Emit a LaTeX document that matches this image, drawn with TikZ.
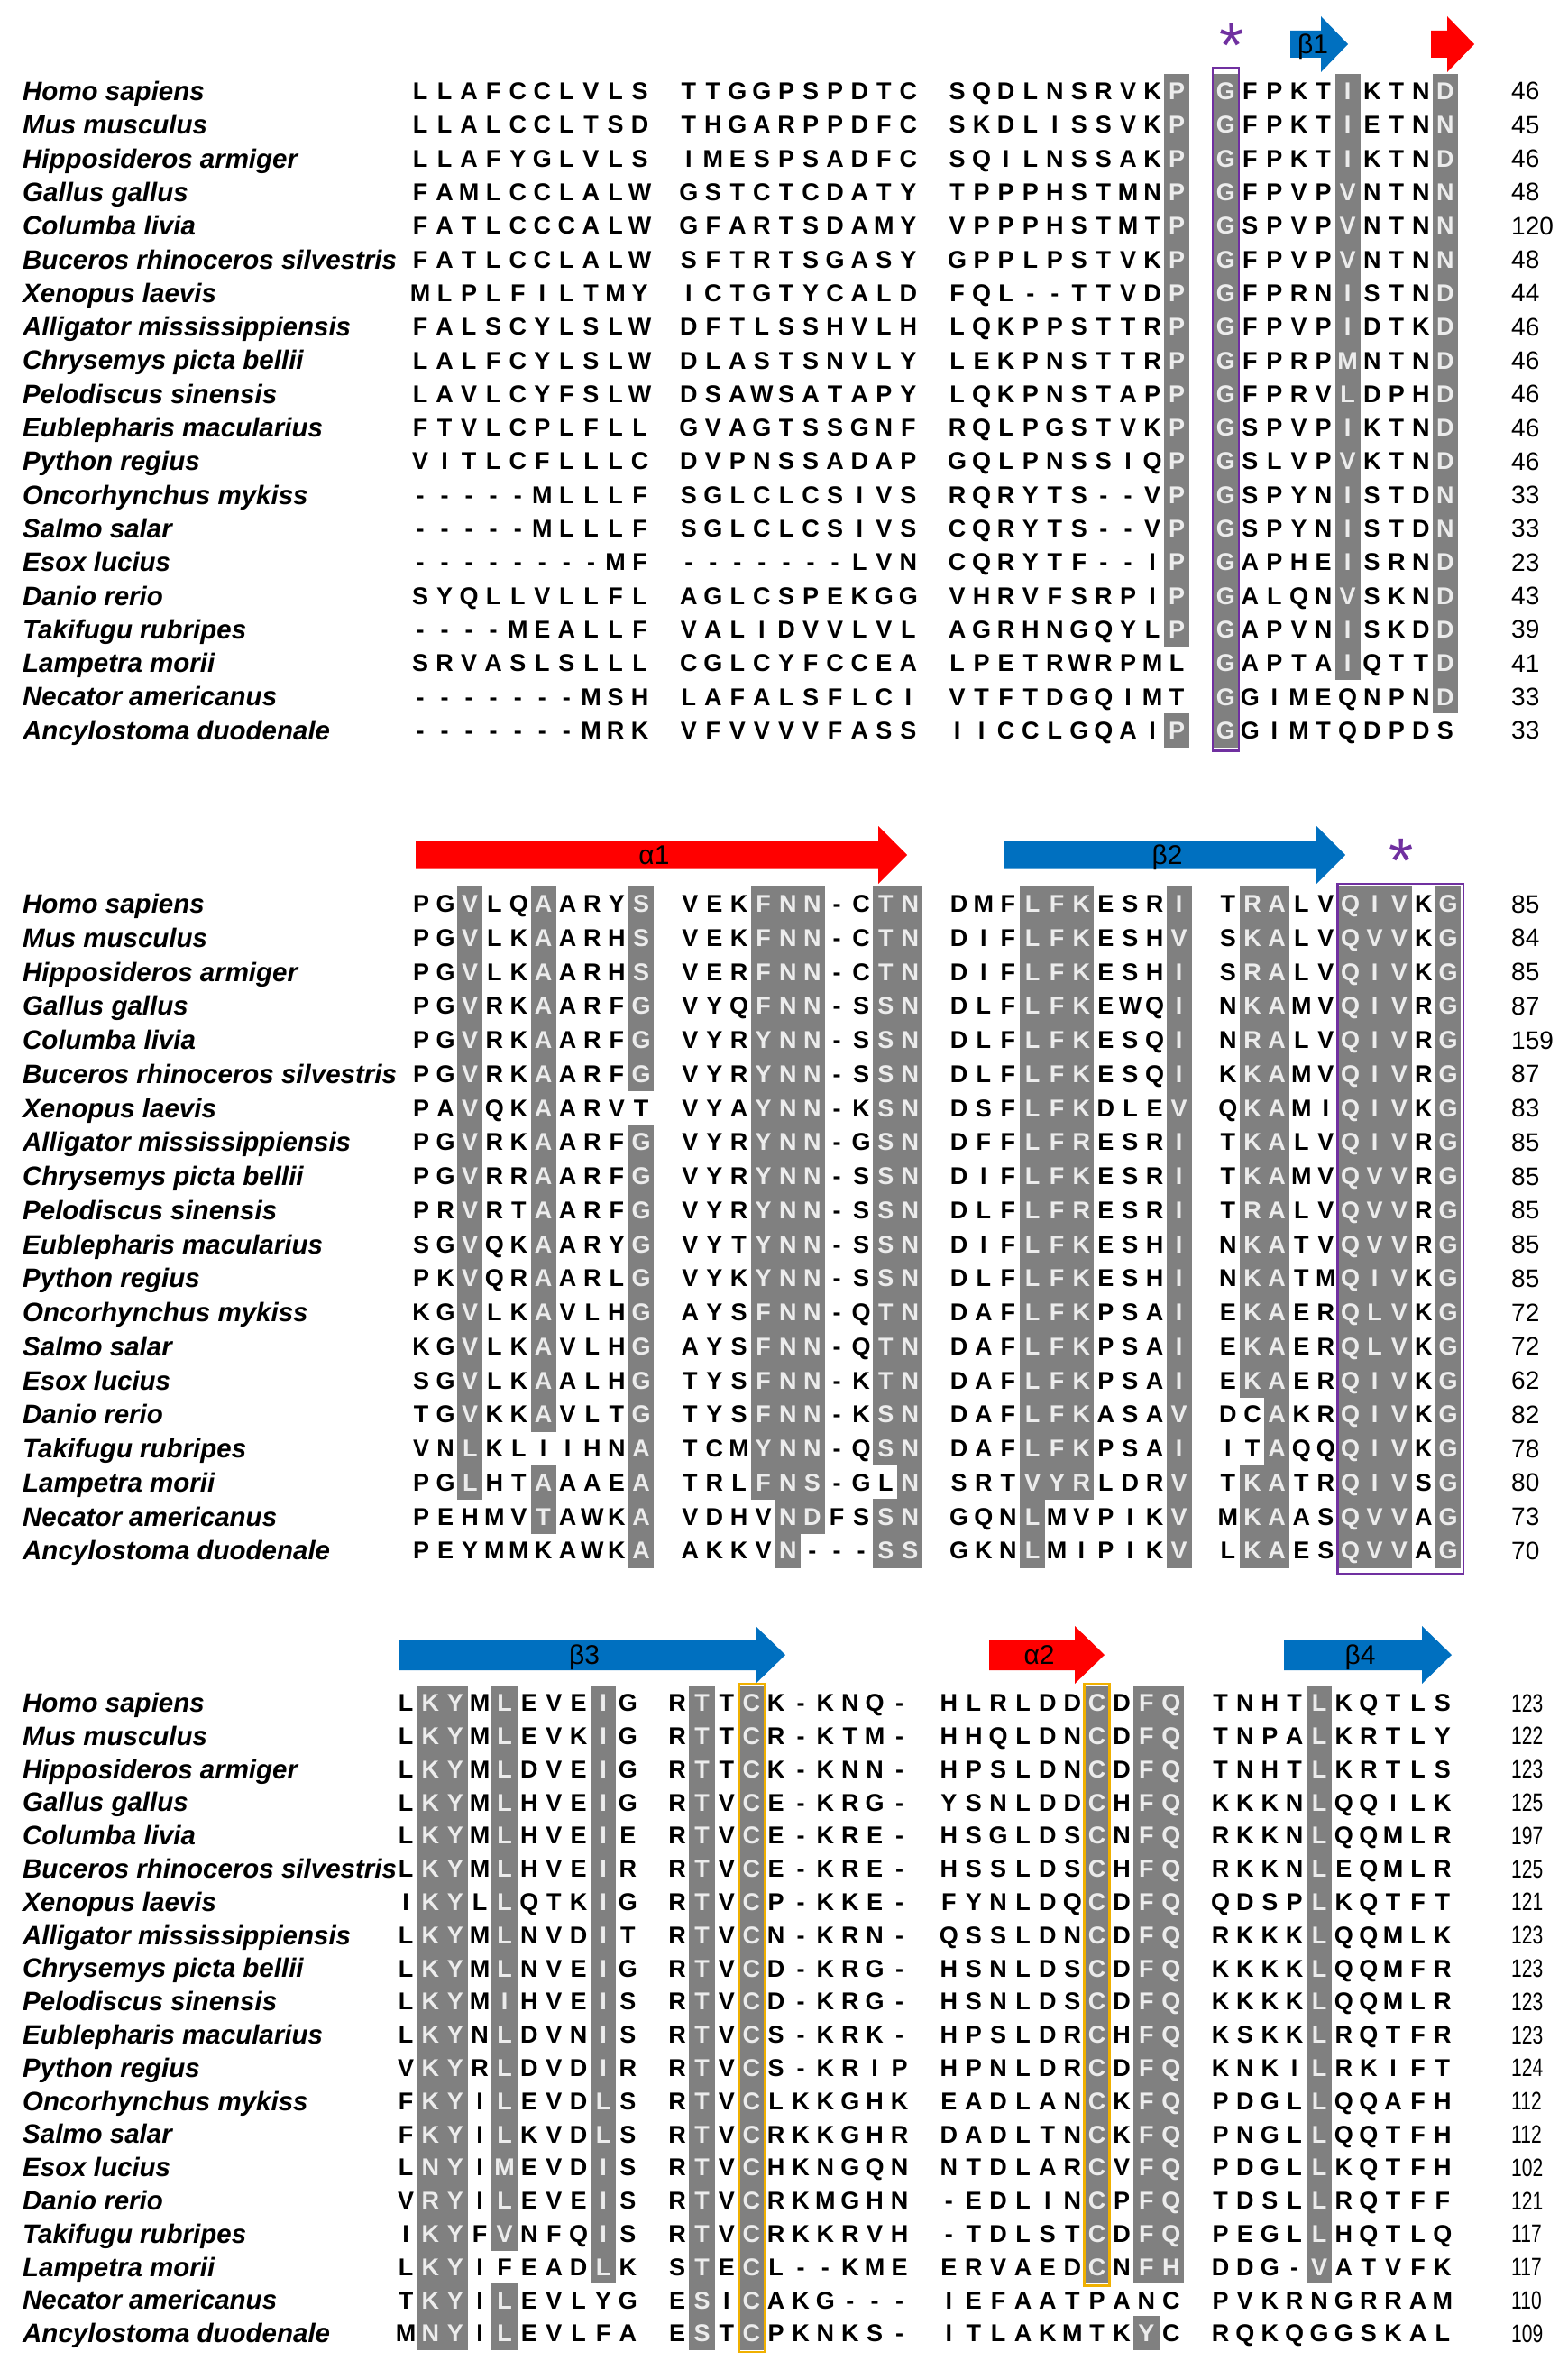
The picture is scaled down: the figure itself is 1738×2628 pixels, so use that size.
\documentclass[tikz,border=0pt]{standalone}
\usepackage{fontspec}
\setmainfont{Liberation Sans}
\usepackage{tikz}
\usetikzlibrary{calc}
\definecolor{hlgray}{RGB}{128,128,128}
\definecolor{hltext}{RGB}{236,236,236}
\definecolor{sheetblue}{RGB}{0,112,192}
\definecolor{helixred}{RGB}{255,0,0}
\definecolor{boxpurple}{RGB}{112,48,160}
\definecolor{boxorange}{RGB}{240,176,0}
\tikzstyle{aa}=[inner sep=0pt,text height=19.3pt,text depth=0pt,font=\fontsize{27}{30}\selectfont\bfseries]
\tikzstyle{hl}=[fill=hlgray]
\tikzstyle{len}=[anchor=west,inner sep=0pt,text height=20pt,text depth=0pt,font=\fontsize{28}{30}\selectfont]
\tikzstyle{species}=[anchor=west,inner sep=0pt,text height=21pt,text depth=0pt,font=\fontsize{29.5}{32}\selectfont\bfseries\itshape]
\tikzstyle{sslabel}=[inner sep=0pt,anchor=base,font=\fontsize{\sslsize}{\sslsize}\selectfont]
\tikzstyle{conserved}=[inner sep=0pt,anchor=base,text=boxpurple,font=\fontsize{70}{70}\selectfont]
\tikzset{
	motif/.style={draw=boxpurple,line width=2.5pt},
	cysbox/.style={draw=boxorange,line width=2.5pt}
}
\newcount\colidx
\newif\ifhl
\makeatletter
% one line of residues: a * marks the next residue as shaded
\newcommand\seqline[3]{%
  \pgfmathsetmacro\ry{\yzero+\rowstep*(#1-1)}%
  \colidx=0 \hlfalse
  \@tfor\res:=#2\do{%
    \if\res*\hltrue\else
      \pgfmathsetmacro\rx{\xzero+\pitch*(\the\colidx+int(\the\colidx/10))}%
      \ifhl
        \fill[hl] (\rx-\pitch/2-0.4,\ry-\rowstep/2-0.4) rectangle (\rx+\pitch/2+0.4,\ry+\rowstep/2+0.4);
        \node[aa,text=hltext] (\blk r#1c\the\colidx) at (\rx,\ry) {\res};
      \else
        \node[aa] (\blk r#1c\the\colidx) at (\rx,\ry) {\res};
      \fi
      \advance\colidx by 1 \hlfalse
    \fi}%
  \node[len] (\blk r#1n) at (\numx,\ry) {\numtxt{#3}};%
}
\makeatother
% secondary structure arrow: name, start, tip, colour, label
\newcommand\ssarrow[5]{%
  \fill[#4] (#2,\ssy-\shaft) -- (#3-\headlen,\ssy-\shaft) -- (#3-\headlen,\ssy-\headw) -- (#3,\ssy)
    -- (#3-\headlen,\ssy+\headw) -- (#3-\headlen,\ssy+\shaft) -- (#2,\ssy+\shaft) -- cycle;
  \node[sslabel] (#1) at ({(#2+#3-\headlen)/2+8},{\ssy+0.36*\sslsize}) {#5};
}
\def\specieslist{Homo sapiens,Mus musculus,Hipposideros armiger,Gallus gallus,Columba livia,Buceros rhinoceros silvestris,Xenopus laevis,Alligator mississippiensis,Chrysemys picta bellii,Pelodiscus sinensis,Eublepharis macularius,Python regius,Oncorhynchus mykiss,Salmo salar,Esox lucius,Danio rerio,Takifugu rubripes,Lampetra morii,Necator americanus,Ancylostoma duodenale}

\begin{document}
\begin{tikzpicture}[x=1pt,y=-1pt]
    \useasboundingbox (0,0) rectangle (1738,2628);

    % block 1
    \def\blk{b1}\def\xzero{466}\def\pitch{27.07}\def\yzero{101}\def\rowstep{37.3}\def\numx{1676}
    \def\numtxt#1{#1}
    \foreach \sp [count=\i] in \specieslist {
      \node[species] (\blk s\i) at (25,{\yzero+\rowstep*(\i-1)}) {\sp};
    }
    \seqline{1}{LLAFCCLVLS TTGGPSPDTC SQDLNSRVK*P *GFPKT*IKTN*D}{46}
    \seqline{2}{LLALCCLTSD THGARPPDFC SKDLISSVK*P *GFPKT*IETN*N}{45}
    \seqline{3}{LLAFYGLVLS IMESPSADFC SQILNSSAK*P *GFPKT*IKTN*D}{46}
    \seqline{4}{FAMLCCLALW GSTCTCDATY TPPPHSTMN*P *GFPVP*VNTN*N}{48}
    \seqline{5}{FATLCCCALW GFARTSDAMY VPPPHSTMT*P *GSPVP*VNTN*N}{120}
    \seqline{6}{FATLCCLALW SFTRTSGASY GPPLPSTVK*P *GFPVP*VNTN*N}{48}
    \seqline{7}{MLPLFILTMY ICTGTYCALD FQL--TTVD*P *GFPRN*ISTN*D}{44}
    \seqline{8}{FALSCYLSLW DFTLSSHVLH LQKPPSTTR*P *GFPVP*IDTK*D}{46}
    \seqline{9}{LALFCYLSLW DLASTSNVLY LEKPNSTTR*P *GFPRP*MNTN*D}{46}
    \seqline{10}{LAVLCYFSLW DSAWSATAPY LQKPNSTAP*P *GFPRV*LDPH*D}{46}
    \seqline{11}{FTVLCPLFLL GVAGTSSGNF RQLPGSTVK*P *GSPVP*IKTN*D}{46}
    \seqline{12}{VITLCFLLLC DVPNSSADAP GQLPNSSIQ*P *GSLVP*VKTN*D}{46}
    \seqline{13}{-----MLLLF SGLCLCSIVS RQRYTS--V*P *GSPYN*ISTD*N}{33}
    \seqline{14}{-----MLLLF SGLCLCSIVS CQRYTS--V*P *GSPYN*ISTD*N}{33}
    \seqline{15}{--------MF -------LVN CQRYTF--I*P *GAPHE*ISRN*D}{23}
    \seqline{16}{SYQLLVLLFL AGLCSPEKGG VHRVFSRPI*P *GALQN*VSKN*D}{43}
    \seqline{17}{----MEALLF VALIDVVLVL AGRHNGQYL*P *GAPVN*ISKD*D}{39}
    \seqline{18}{SRVASLSLLL CGLCYFCCEA LPETRWRPML *GAPTA*IQTT*D}{41}
    \seqline{19}{-------MSH LAFALSFLCI VTFTDGQIMT *GGIMEQNPN*D}{33}
    \seqline{20}{-------MRK VFVVVVFASS IICCLGQAI*P *GGIMTQDPDS}{33}
    \draw[motif] ($(b1r1c30)+(-14.5,-26)$) rectangle ($(b1r20c30)+(14.5,23)$);
    \def\ssy{49}\def\shaft{15}\def\headw{31}\def\headlen{30}\def\sslsize{30}
    \ssarrow{beta1}{1431}{1495}{sheetblue}{β1}
    \ssarrow{helix0}{1587}{1635}{helixred}{}
    \node[conserved] (star1) at (1366,75) {*};

    % block 2
    \def\blk{b2}\def\xzero{467}\def\pitch{27.12}\def\yzero{1002}\def\rowstep{37.75}
    \foreach \sp [count=\i] in \specieslist {
      \node[species] (\blk s\i) at (25,{\yzero+\rowstep*(\i-1)}) {\sp};
    }
    \seqline{1}{PG*VLQ*AARY*S VEK*F*N*N-C*T*N DMF*L*F*KESR*I T*R*ALV*Q*I*VK*G}{85}
    \seqline{2}{PG*VLK*AARH*S VEK*F*N*N-C*T*N DIF*L*F*KESH*V S*K*ALV*Q*V*VK*G}{84}
    \seqline{3}{PG*VLK*AARH*S VER*F*N*N-C*T*N DIF*L*F*KESH*I S*R*ALV*Q*I*VK*G}{85}
    \seqline{4}{PG*VRK*AARF*G VYQ*F*N*N-S*S*N DLF*L*F*KEWQ*I N*K*AMV*Q*I*VR*G}{87}
    \seqline{5}{PG*VRK*AARF*G VYR*Y*N*N-S*S*N DLF*L*F*KESQ*I N*R*ALV*Q*I*VR*G}{159}
    \seqline{6}{PG*VRK*AARF*G VYR*Y*N*N-S*S*N DLF*L*F*KESQ*I K*K*AMV*Q*I*VR*G}{87}
    \seqline{7}{PA*VQK*AARVT VYA*Y*N*N-K*S*N DSF*L*F*KDLE*V Q*K*AMI*Q*I*VK*G}{83}
    \seqline{8}{PG*VRK*AARF*G VYR*Y*N*N-G*S*N DFF*L*F*RESR*I T*K*ALV*Q*I*VR*G}{85}
    \seqline{9}{PG*VRR*AARF*G VYR*Y*N*N-S*S*N DIF*L*F*KESR*I T*K*AMV*Q*V*VR*G}{85}
    \seqline{10}{PR*VRT*AARF*G VYR*Y*N*N-S*S*N DLF*L*F*RESR*I T*R*ALV*Q*V*VR*G}{85}
    \seqline{11}{SG*VQK*AARY*G VYT*Y*N*N-S*S*N DIF*L*F*KESH*I N*K*ATV*Q*V*VR*G}{85}
    \seqline{12}{PK*VQR*AARL*G VYK*Y*N*N-S*S*N DLF*L*F*KESH*I N*K*ATM*Q*I*VK*G}{85}
    \seqline{13}{KG*VLK*AVLH*G AYS*F*N*N-Q*T*N DAF*L*F*KPSA*I E*K*AER*Q*L*VK*G}{72}
    \seqline{14}{KG*VLK*AVLH*G AYS*F*N*N-Q*T*N DAF*L*F*KPSA*I E*K*AER*Q*L*VK*G}{72}
    \seqline{15}{SG*VLK*AALH*G TYS*F*N*N-K*T*N DAF*L*F*KPSA*I E*K*AER*Q*I*VK*G}{62}
    \seqline{16}{TG*VKK*AVLT*G TYS*F*N*N-K*S*N DAF*L*F*KASA*V DC*AKR*Q*I*VK*G}{82}
    \seqline{17}{VN*LKLIIHN*A TCM*Y*N*N-Q*S*N DAF*L*F*KPSA*I IT*AQQ*Q*I*VK*G}{78}
    \seqline{18}{PG*LHT*AAAE*A TRL*F*N*S-GL*N SRT*V*Y*RLDR*V T*K*ATR*Q*I*VS*G}{80}
    \seqline{19}{PEHMV*TAWK*A VDHV*N*DFS*S*N GQN*LMVPIK*V M*K*AAS*Q*V*VA*G}{73}
    \seqline{20}{PEYMMKAWK*A AKKV*N---*S*S GKN*LMIPIK*V L*K*AES*Q*V*VA*G}{70}
    \draw[motif] ($(b2r1c35)+(-14,-22)$) rectangle ($(b2r20c39)+(17,26)$);
    \def\ssy{948}\def\shaft{15.5}\def\headw{32}\def\headlen{32}\def\sslsize{30}
    \ssarrow{alpha1}{461}{1006}{helixred}{α1}
    \ssarrow{beta2}{1113}{1492}{sheetblue}{β2}
    \node[conserved] (star2) at (1554,978) {*};

    % block 3
    \def\blk{b3}\def\xzero{450}\def\pitch{27.38}\def\yzero{1888}\def\rowstep{36.8}
    \def\numtxt#1{\scalebox{0.75}[1]{#1}}
    \foreach \sp [count=\i] in \specieslist {
      \node[species] (\blk s\i) at (25,{\yzero+\rowstep*(\i-1)}) {\sp};
    }
    \seqline{1}{L*K*YM*LEVE*IG R*TT*CK-KNQ- HLRLDD*CD*F*Q TNHT*LKQTLS}{123}
    \seqline{2}{L*K*YM*LEVK*IG R*TT*CR-KTM- HHQLDN*CD*F*Q TNPA*LKRTLY}{122}
    \seqline{3}{L*K*YM*LDVE*IG R*TT*CK-KNN- HPSLDN*CD*F*Q TNHT*LKRTLS}{123}
    \seqline{4}{L*K*YM*LHVE*IG R*TV*CE-KRG- YSNLDD*CH*F*Q KKKN*LQQILK}{125}
    \seqline{5}{L*K*YM*LHVE*IE R*TV*CE-KRE- HSGLDS*CN*F*Q RKKN*LQQMLR}{197}
    \seqline{6}{L*K*YM*LHVE*IR R*TV*CE-KRE- HSSLDS*CH*F*Q RKKN*LEQMLR}{125}
    \seqline{7}{I*K*YL*LQTK*IG R*TV*CP-KKE- FYNLDQ*CD*F*Q QDSP*LKQTFT}{121}
    \seqline{8}{L*K*YM*LNVD*IT R*TV*CN-KRN- QSSLDN*CD*F*Q RKKK*LQQMLK}{123}
    \seqline{9}{L*K*YM*LNVE*IG R*TV*CD-KRG- HSNLDS*CD*F*Q KKKK*LQQMFR}{123}
    \seqline{10}{L*K*YM*IHVE*IS R*TV*CD-KRG- HSNLDS*CD*F*Q KKKK*LQQMLR}{123}
    \seqline{11}{L*K*YN*LDVN*IS R*TV*CS-KRK- HPSLDR*CH*F*Q KSKK*LRQTFR}{123}
    \seqline{12}{V*K*YR*LDVD*IR R*TV*CS-KRIP HPNLDR*CD*F*Q KNKI*LRKIFT}{124}
    \seqline{13}{F*K*YI*LEVD*LS R*TV*CLKKGHK EADLAN*CK*F*Q PDGL*LQQAFH}{112}
    \seqline{14}{F*K*YI*LKVD*LS R*TV*CRKKGHR DADLTN*CK*F*Q PNGL*LQQTFH}{112}
    \seqline{15}{L*N*YI*MEVD*IS R*TV*CHKNGQN NTDLAR*CV*F*Q PDGL*LKQTFH}{102}
    \seqline{16}{V*R*YI*LEVE*IS R*TV*CRKMGHN -EDLIN*CP*F*Q TDSL*LRQTFF}{121}
    \seqline{17}{I*K*YF*VNFQ*IS R*TV*CRKKRVH -TDLST*CD*F*Q PEGL*LHQTLQ}{117}
    \seqline{18}{L*K*YIFEAD*LK S*TE*CL--KME ERVAED*CN*F*H DDG-*VATVFK}{117}
    \seqline{19}{T*K*YI*LEVLYG E*SI*CAKG--- IEFAATPANC PVKRNGRRAM}{110}
    \seqline{20}{M*N*YI*LEVLFA E*ST*CPKNKS- ITLAKMTK*YC RQKQGGSKAL}{109}
    \draw[cysbox] ($(b3r1c13)+(-14,-21)$) rectangle ($(b3r20c13)+(15,21)$);
    \draw[cysbox] ($(b3r1c26)+(-14,-21)$) rectangle ($(b3r18c26)+(14,21)$);
    \def\ssy{1835}\def\shaft{17}\def\headw{32}\def\headlen{33}
    \ssarrow{beta3}{442}{871}{sheetblue}{β3}
    \ssarrow{alpha2}{1097}{1225}{helixred}{α2}
    \ssarrow{beta4}{1424}{1610}{sheetblue}{β4}
  \end{tikzpicture}
\end{document}
